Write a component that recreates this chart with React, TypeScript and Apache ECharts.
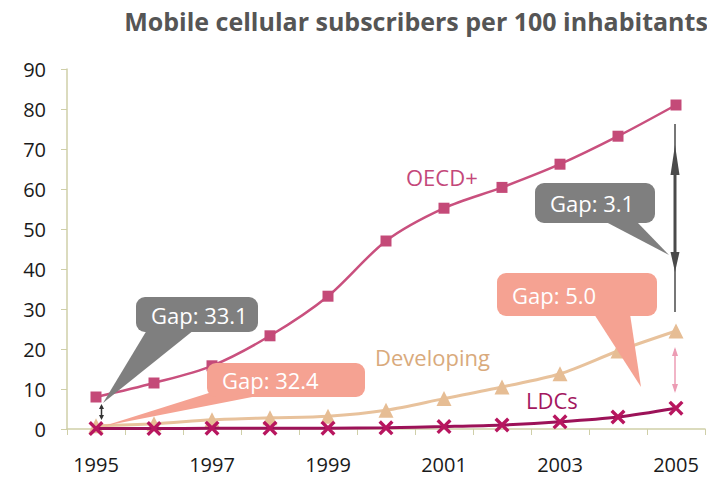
import React, { useEffect, useRef } from "react";
import * as echarts from "echarts";

const years = ["1995", "1996", "1997", "1998", "1999", "2000", "2001", "2002", "2003", "2004", "2005"];
const oecd = [8, 11.5, 15.8, 23.3, 33.2, 47, 55.2, 60.4, 66.2, 73.2, 81];
const developing = [0.8, 1.3, 2.3, 2.8, 3.2, 4.7, 7.6, 10.5, 13.8, 19.5, 24.5];
const ldcs = [0.1, 0.1, 0.2, 0.2, 0.2, 0.3, 0.6, 1.0, 1.8, 3.0, 5.2];
const seriesNames = ["OECD+", "Developing", "LDCs"];
const gapLabels = ["Gap: 33.1", "Gap: 32.4", "Gap: 3.1", "Gap: 5.0"];
const titleText = "Mobile cellular subscribers per 100 inhabitants";

const FONT = "'Open Sans', 'Noto Sans', sans-serif";
const GRAY = "#7f7f7f";
const SALMON = "#f5a292";
const X_SYMBOL =
  "path://M0,1.6 L1.6,0 L5,3.4 L8.4,0 L10,1.6 L6.6,5 L10,8.4 L8.4,10 L5,6.6 L1.6,10 L0,8.4 L3.4,5 Z";

function bubble(text: string, x: number, y: number, w: number, h: number, color: string, tail: number[][]) {
  return [
    { type: "polygon", z: 100, shape: { points: tail }, style: { fill: color } },
    { type: "rect", z: 100, shape: { x, y, width: w, height: h, r: 9 }, style: { fill: color } },
    {
      type: "text",
      z: 101,
      x: x + 15,
      y: y + h / 2,
      style: { text, fill: "#ffffff", font: `22px ${FONT}`, textVerticalAlign: "middle" },
    },
  ];
}

export default function App() {
  const ref = useRef<HTMLDivElement>(null);
  useEffect(() => {
    if (!ref.current) return;
    const chart = echarts.init(ref.current, null, { renderer: "svg" });
    const graphics: any[] = [
      ...bubble(gapLabels[0], 136, 297, 122, 35, GRAY, [[147, 330], [194, 330], [103, 403]]),
      ...bubble(gapLabels[1], 207, 363, 158, 34, SALMON, [[212, 392], [262, 395], [104, 426]]),
      ...bubble(gapLabels[2], 535, 183, 120, 40, GRAY, [[606, 222], [637, 222], [669, 255]]),
      ...bubble(gapLabels[3], 497, 273, 160, 43, SALMON, [[594, 314], [630, 314], [641, 387]]),
      // big dark double arrow
      { type: "line", z: 99, shape: { x1: 675, y1: 124, x2: 675, y2: 312 }, style: { stroke: "#4a4a4a", lineWidth: 1.5 } },
      { type: "line", z: 99, shape: { x1: 675, y1: 170, x2: 675, y2: 256 }, style: { stroke: "#4a4a4a", lineWidth: 3 } },
      { type: "polygon", z: 99, shape: { points: [[675, 145], [670.5, 175], [679.5, 175]] }, style: { fill: "#4a4a4a" } },
      { type: "polygon", z: 99, shape: { points: [[670.5, 252], [679.5, 252], [675, 272]] }, style: { fill: "#4a4a4a" } },
      // small pink arrow
      { type: "line", z: 99, shape: { x1: 675, y1: 349, x2: 675, y2: 391 }, style: { stroke: "#ec9cb4", lineWidth: 1.5 } },
      { type: "polygon", z: 99, shape: { points: [[675, 347], [672, 356], [678, 356]] }, style: { fill: "#ec9cb4" } },
      { type: "polygon", z: 99, shape: { points: [[672, 384], [678, 384], [675, 393]] }, style: { fill: "#ec9cb4" } },
      // small dark arrow at 1995
      { type: "line", z: 99, shape: { x1: 101.5, y1: 406, x2: 101.5, y2: 418 }, style: { stroke: "#333", lineWidth: 1.5 } },
      { type: "polygon", z: 99, shape: { points: [[101.5, 404], [99, 409], [104, 409]] }, style: { fill: "#333" } },
      { type: "polygon", z: 99, shape: { points: [[99, 415], [104, 415], [101.5, 420]] }, style: { fill: "#333" } },
      // series labels
      { type: "text", z: 90, x: 406, y: 177, style: { text: seriesNames[0], fill: "#c4487a", font: `22px ${FONT}`, textVerticalAlign: "middle" } },
      { type: "text", z: 90, x: 375, y: 357, style: { text: seriesNames[1], fill: "#d9aa7c", font: `22px ${FONT}`, textVerticalAlign: "middle" } },
      { type: "text", z: 90, x: 526, y: 400, style: { text: seriesNames[2], fill: "#a3175f", font: `22px ${FONT}`, textVerticalAlign: "middle" } },
    ];
    chart.setOption({
      animation: false,
      backgroundColor: "#ffffff",
      title: {
        text: titleText,
        left: 411,
        top: 3,
        textAlign: "center",
        textStyle: { fontFamily: FONT, fontSize: 25, fontWeight: "bold", color: "#555555" },
      },
      grid: { left: 67, right: 2, top: 69, bottom: 53, containLabel: false },
      xAxis: {
        type: "category",
        data: years,
        boundaryGap: true,
        axisLine: { lineStyle: { color: "#cfcfa8", width: 1.5 } },
        axisTick: { show: true, length: 6, interval: 0, lineStyle: { color: "#cfcfa8" } },
        axisLabel: { interval: 1, margin: 25, fontFamily: FONT, fontSize: 20, color: "#1a1a1a", fontWeight: 500 },
        splitLine: { show: false },
      },
      yAxis: {
        type: "value",
        min: 0,
        max: 90,
        interval: 10,
        axisLine: { show: true, lineStyle: { color: "#cfcfa8", width: 1.5 } },
        axisTick: { show: true, length: 6, lineStyle: { color: "#cfcfa8" } },
        axisLabel: { margin: 21, fontFamily: FONT, fontSize: 20, color: "#1a1a1a", fontWeight: 500 },
        splitLine: { show: false },
      },
      series: [
        {
          name: seriesNames[1],
          type: "line",
          data: developing,
          smooth: 0.3,
          symbol: "triangle",
          symbolSize: 15,
          lineStyle: { color: "#e8c29c", width: 3 },
          itemStyle: { color: "#e6bd94" },
          z: 3,
        },
        {
          name: seriesNames[0],
          type: "line",
          data: oecd,
          smooth: 0.3,
          symbol: "rect",
          symbolSize: 11,
          lineStyle: { color: "#c9507e", width: 2.5 },
          itemStyle: { color: "#c44a78" },
          z: 4,
        },
        {
          name: seriesNames[2],
          type: "line",
          data: ldcs,
          smooth: 0.3,
          symbol: X_SYMBOL,
          symbolSize: 15,
          lineStyle: { color: "#9c1258", width: 3 },
          itemStyle: { color: "#b8165f" },
          z: 5,
        },
      ],
      graphic: graphics,
    });
    return () => chart.dispose();
  }, []);
  return <div ref={ref} style={{ width: 707, height: 482, position: "absolute", left: 0, top: 0 }} />;
}
